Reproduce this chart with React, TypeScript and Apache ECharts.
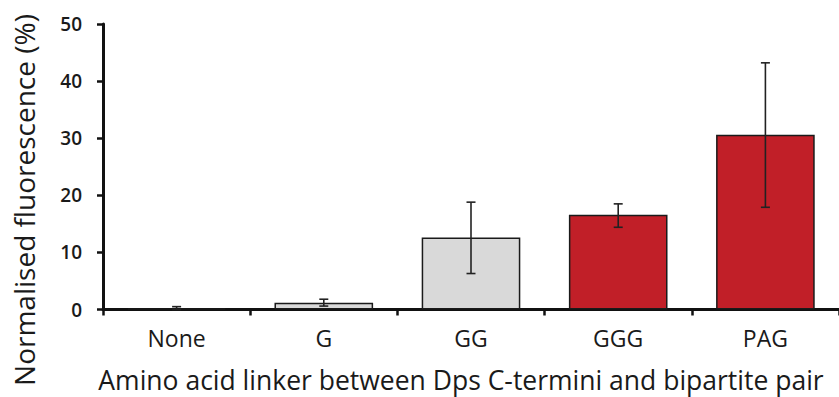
import React, { useEffect, useRef } from "react";
import * as echarts from "echarts";

const categories = ["None", "G", "GG", "GGG", "PAG"];
const values = [0.2, 1.2, 12.6, 16.6, 30.6];
const errLow = [0.0, 0.6, 6.3, 14.4, 17.9];
const errHigh = [0.5, 1.8, 18.8, 18.5, 43.2];
const barColors = ["#d9d9d9", "#d9d9d9", "#d9d9d9", "#c11f28", "#c11f28"];
const yTicks = [0, 10, 20, 30, 40, 50];
const yName = "Normalised fluorescence (%)";
const xName = "Amino acid linker between Dps C-termini and bipartite pair";

const FONT = "'Open Sans', 'Noto Sans', sans-serif";

export default function App() {
  const ref = useRef<HTMLDivElement>(null);
  useEffect(() => {
    document.body.style.margin = "0";
    if (!ref.current) return;
    const chart = echarts.init(ref.current, undefined, { renderer: "svg" });
    chart.setOption({
      animation: false,
      backgroundColor: "#ffffff",
      grid: { left: 103, right: -4, top: 24, bottom: 87.5, containLabel: false },
      xAxis: {
        type: "category",
        data: categories,
        axisLine: { show: true, lineStyle: { color: "#111", width: 3 } },
        axisTick: { show: true, alignWithLabel: false, length: 6, lineStyle: { color: "#111", width: 2.5 } },
        axisLabel: { fontSize: 23, color: "#1a1a1a", fontFamily: FONT, margin: 17 },
        splitLine: { show: false },
      },
      yAxis: {
        type: "value",
        min: yTicks[0],
        max: yTicks[yTicks.length - 1],
        interval: 10,
        axisLine: { show: true, lineStyle: { color: "#111", width: 3 } },
        axisTick: { show: true, length: 6, lineStyle: { color: "#111", width: 2.5 } },
        axisLabel: { fontSize: 19, color: "#1a1a1a", fontFamily: FONT, margin: 21, fontWeight: 600 },
        splitLine: { show: false },
      },
      graphic: [
        {
          type: "text",
          x: 24,
          y: 200,
          rotation: Math.PI / 2,
          style: {
            text: yName,
            fontSize: 28,
            fontFamily: FONT,
            fill: "#1a1a1a",
            align: "center",
            verticalAlign: "middle",
          },
        },
        {
          type: "text",
          x: 461,
          y: 380,
          style: {
            text: xName,
            fontSize: 26.5,
            fontFamily: FONT,
            fill: "#1a1a1a",
            align: "center",
            verticalAlign: "middle",
          },
        },
      ],
      series: [
        {
          type: "bar",
          barWidth: "67%",
          data: values.map((v, i) => ({
            value: v,
            itemStyle: { color: barColors[i], borderColor: "#1a1a1a", borderWidth: 1.5 },
          })),
          z: 2,
        },
        {
          type: "custom",
          z: 3,
          data: categories.map((_, i) => [i, errLow[i], errHigh[i]]),
          renderItem: (params: any, api: any) => {
            const i = api.value(0);
            const lo = api.coord([i, api.value(1)]);
            const hi = api.coord([i, api.value(2)]);
            const cap = 4.5;
            const style = { stroke: "#222", lineWidth: 1.6 };
            return {
              type: "group",
              children: [
                { type: "line", shape: { x1: hi[0], y1: hi[1], x2: lo[0], y2: lo[1] }, style },
                { type: "line", shape: { x1: hi[0] - cap, y1: hi[1], x2: hi[0] + cap, y2: hi[1] }, style },
                { type: "line", shape: { x1: lo[0] - cap, y1: lo[1], x2: lo[0] + cap, y2: lo[1] }, style },
              ],
            };
          },
        },
      ],
    });
    return () => chart.dispose();
  }, []);
  return <div ref={ref} style={{ width: 839, height: 397 }} />;
}
